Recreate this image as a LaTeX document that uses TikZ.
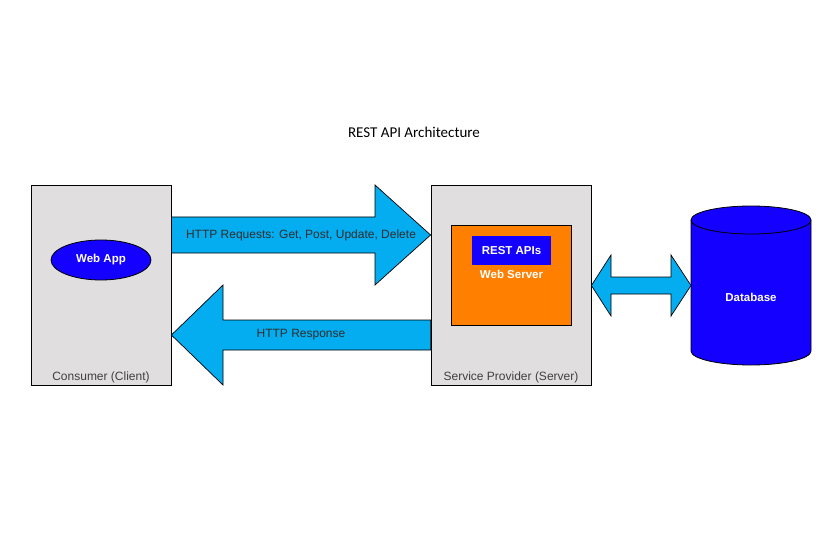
\documentclass[tikz,border=0pt]{standalone}
\usepackage{fontspec}
\setmainfont{Liberation Sans}
\newfontfamily\titlefont{Carlito}
\usepackage{tikz}
\usetikzlibrary{shapes.geometric,positioning,calc}
\usepackage{xcolor}
\definecolor{tiergray}{RGB}{224,222,223}
\definecolor{flowcyan}{RGB}{4,172,240}
\definecolor{appblue}{RGB}{20,0,255}
\definecolor{srvorange}{RGB}{255,128,0}

\begin{document}
\begin{tikzpicture}[
    x=1pt, y=-1pt,
    tier/.style={rectangle, draw, fill=tiergray, minimum height=200pt, line width=0.8pt},
    app/.style={ellipse, draw, fill=appblue, minimum width=100pt, minimum height=40pt, line width=0.8pt},
    websrv/.style={rectangle, draw, fill=srvorange, minimum width=120pt, minimum height=100pt, line width=0.8pt},
    api/.style={rectangle, fill=appblue, minimum width=79pt, minimum height=29pt},
    flow/.style={draw, fill=flowcyan, line width=0.7pt, line join=miter},
    lbl/.style={font=\fontsize{12}{14}\selectfont, text=black!82},
    wlbl/.style={font=\fontsize{11.5}{14}\selectfont\bfseries, text=white},
    inner sep=0pt
]
    \useasboundingbox (0,0) rectangle (835,556);

    \node[font=\titlefont\fontsize{15}{18}\selectfont] (title) at (414,132) {REST API Architecture};

    % Client side
    \node[tier, minimum width=140pt] (client) at (101,285) {};
    \node[app] (webapp) at (101,260) {};
    \node[wlbl] (webapplbl) at (webapp) {Web App};
    \node[lbl, text=black!75, anchor=base] (clientlbl) at ([yshift=5pt]client.south) {Consumer (Client)};

    % Server side
    \node[tier, minimum width=160pt] (server) at (511,285) {};
    \node[websrv] (websrv) at (511,275) {};
    \node[api, wlbl] (api) at (511.5,250.5) {REST APIs};
    \node[wlbl, below=5pt of api] (websrvlbl) {Web Server};
    \node[lbl, text=black!75, anchor=base] (serverlbl) at ([yshift=5pt]server.south) {Service Provider (Server)};

    % Database
    \draw[fill=appblue, line width=0.8pt] (691,220) -- (691,351)
        arc[start angle=180, end angle=360, x radius=60pt, y radius=14pt] -- (811,220)
        arc[start angle=0, end angle=180, x radius=60pt, y radius=14pt] -- cycle;
    \draw[line width=0.8pt] (691,220) arc[start angle=180, end angle=360, x radius=60pt, y radius=14pt];
    \node[wlbl] (db) at (751,297) {Database};
    \coordinate (dbwest) at (691,285.5);

    % Requests and response
    \draw[flow] (client.east |- 0,217) -- (375,217) -- (375,185) -- (server.west |- 0,235)
        -- (375,285) -- (375,253) -- (client.east |- 0,253) -- cycle;
    \node[lbl] (reqlbl) at (301,235) {HTTP Requests: Get, Post, Update, Delete};

    \draw[flow] (client.east |- 0,335) -- (223,285) -- (223,320) -- (server.west |- 0,320)
        -- (server.west |- 0,350) -- (223,350) -- (223,385) -- cycle;
    \node[lbl] (resplbl) at (301,335) {HTTP Response};

    % Server <-> database
    \draw[flow] (server.east |- 0,285.5) -- (611,255) -- (611,277) -- (671,277) -- (671,255)
        -- (dbwest) -- (671,316) -- (671,294) -- (611,294) -- (611,316) -- cycle;
\end{tikzpicture}
\end{document}
